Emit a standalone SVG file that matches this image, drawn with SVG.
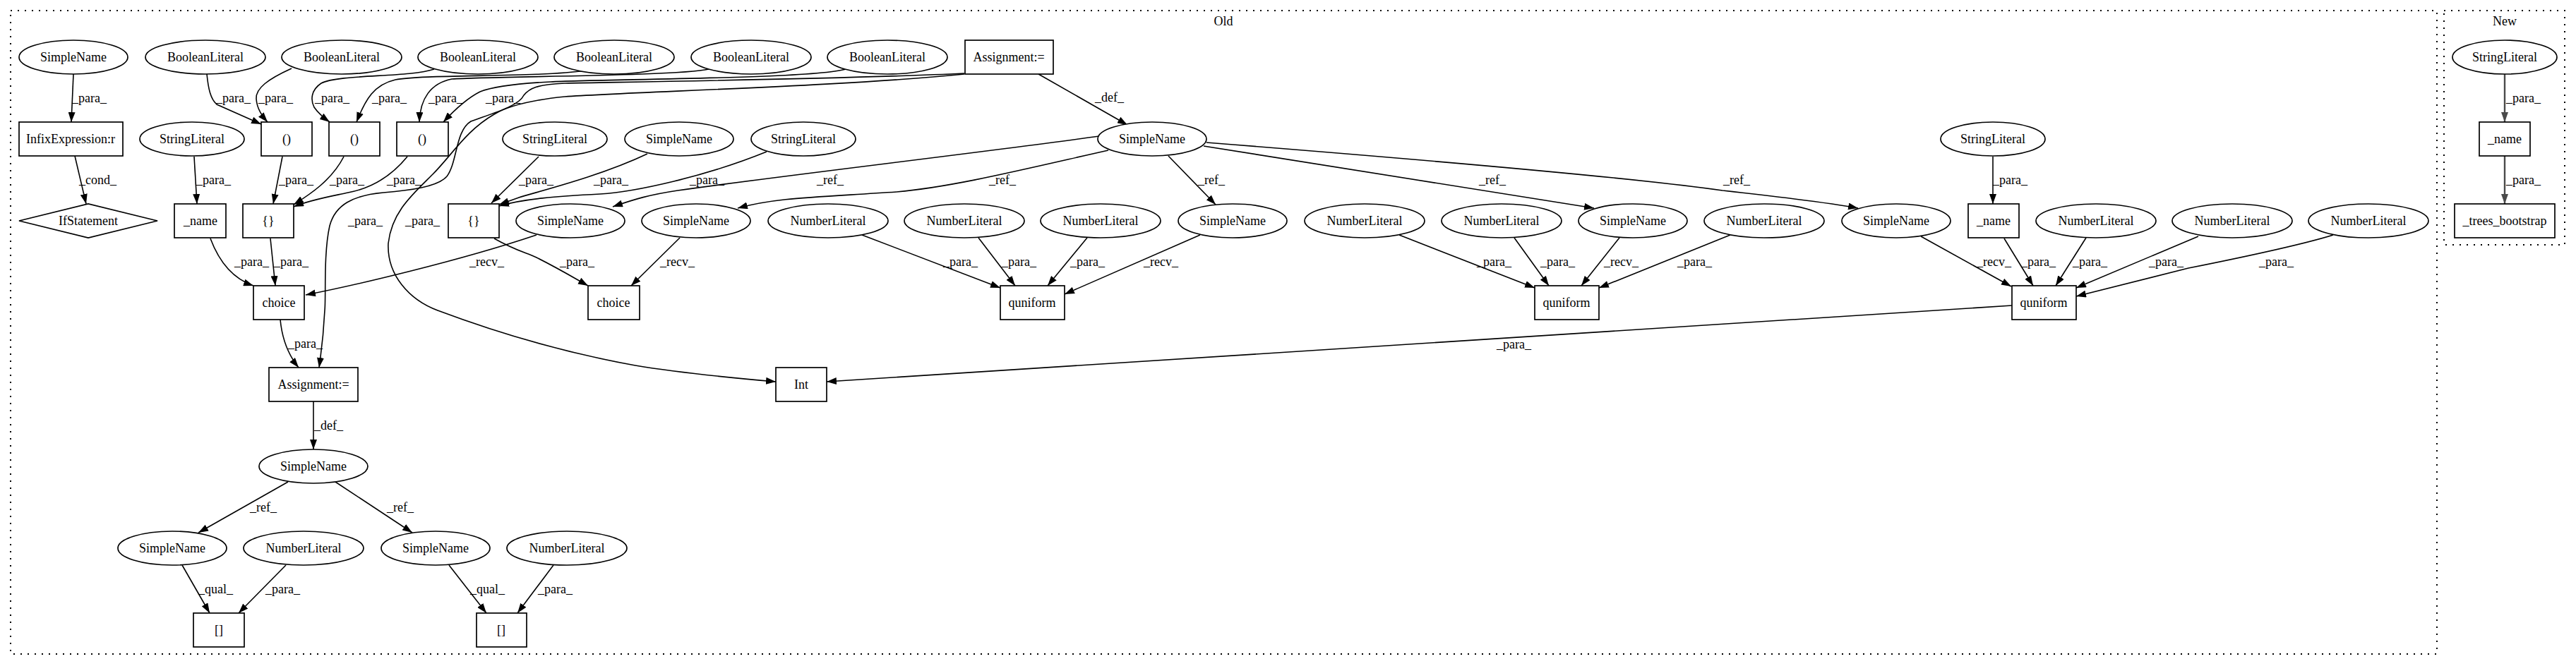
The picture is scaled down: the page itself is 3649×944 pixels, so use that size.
<svg xmlns="http://www.w3.org/2000/svg" width="3649" height="944" viewBox="0 0 3649 944">
<style>
text{font-family:"Liberation Serif","Times New Roman",serif;font-size:18px;fill:#000}
.n text{text-anchor:middle}
.n ellipse,.n rect,.n polygon{fill:#fff;stroke:#000;stroke-width:1.7}
.e path{fill:none;stroke:#000;stroke-width:1.6}
.e2 path{fill:none;stroke:#4a4a4a;stroke-width:2.4}
.lb text{text-anchor:start}
.cl{fill:none;stroke:#000;stroke-width:2;stroke-dasharray:2 8}
</style>
<defs>
<marker id="a" markerUnits="userSpaceOnUse" markerWidth="14" markerHeight="10" refX="14" refY="5" orient="auto"><path d="M0,0L14,5L0,10z" fill="#000"/></marker>
<marker id="a2" markerUnits="userSpaceOnUse" markerWidth="14" markerHeight="10" refX="14" refY="5" orient="auto"><path d="M0,0L14,5L0,10z" fill="#4a4a4a"/></marker>
</defs>
<rect width="3649" height="944" fill="#fff"/>
<g id="clusters">
<rect class="cl" x="15" y="15" width="3437" height="912"/>
<text x="1733" y="36" text-anchor="middle">Old</text>
<rect class="cl" x="3462" y="15" width="171" height="332"/>
<text x="3548" y="36" text-anchor="middle">New</text>
</g>
<g id="connectors">
<g class="e" marker-end="url(#a)">
<path d="M104,105L101,173"/>
<path d="M106,221L122,289"/>
<path d="M293,105C295,125 298,140 307,148L370,176"/>
<path d="M413,97C380,112 362,125 363,140C364,155 372,165 379,173"/>
<path d="M615,98C580,110 480,105 455,118C440,128 440,142 445,152C452,162 460,168 467,173"/>
<path d="M830,100C760,110 600,105 560,113C530,120 518,140 505,173"/>
<path d="M1004,98C960,108 700,108 640,112C610,118 595,140 594,173"/>
<path d="M1198,98C1150,112 850,112 780,116C740,118 700,122 680,130C660,140 640,160 628,173"/>
<path d="M1366,104C1200,112 900,116 800,118C760,120 750,125 742,135C735,150 700,160 667,172C645,185 648,230 633,250C620,265 580,270 543,273C500,277 475,290 467,320C458,360 462,420 460,440C458,480 455,500 452,521"/>
<path d="M1366,105C1200,122 900,130 800,137C750,142 720,150 700,162C660,185 640,220 613,247C585,275 555,300 550,345C548,390 580,425 620,440C700,470 800,500 900,518C960,528 1030,535 1099,541"/>
<path d="M1471,105L1597,177"/>
<path d="M275,222L279,289"/>
<path d="M400,222L387,289"/>
<path d="M487,222C470,255 440,275 416,290"/>
<path d="M577,222C550,255 520,268 493,273C470,278 440,283 416,293"/>
<path d="M763,222L696,288"/>
<path d="M917,218C850,250 760,272 735,280L707,290"/>
<path d="M1086,215C1000,250 900,272 850,275C790,278 740,282 707,292"/>
<path d="M1557,193C1400,215 1100,250 960,270C920,276 900,282 868,293"/>
<path d="M1570,213C1450,240 1350,265 1270,272C1150,280 1100,280 1045,295"/>
<path d="M1655,221L1722,290"/>
<path d="M1705,207L2258,295"/>
<path d="M1709,202C2000,225 2300,250 2440,270C2530,280 2590,287 2632,295"/>
<path d="M760,333C650,370 500,405 433,418"/>
<path d="M298,338C310,370 330,395 359,405"/>
<path d="M383,338L390,405"/>
<path d="M700,338C730,355 745,358 760,365C790,380 810,392 833,405"/>
<path d="M963,337L894,405"/>
<path d="M1221,333L1417,408"/>
<path d="M1386,337L1438,405"/>
<path d="M1540,337L1484,405"/>
<path d="M1700,333L1508,417"/>
<path d="M1982,333L2174,408"/>
<path d="M2145,337L2194,405"/>
<path d="M2294,337L2240,405"/>
<path d="M2451,333L2265,408"/>
<path d="M2721,335L2849,406"/>
<path d="M2839,338L2880,405"/>
<path d="M2955,337L2912,405"/>
<path d="M3114,335L2941,408"/>
<path d="M3305,333C3250,350 3150,370 3100,380L2941,420"/>
<path d="M2823,222L2823,289"/>
<path d="M2850,433C2400,462 1800,500 1171,541"/>
<path d="M397,453C400,485 410,505 423,521"/>
<path d="M444,569L444,637"/>
<path d="M408,683L281,755"/>
<path d="M475,683L584,755"/>
<path d="M258,801L297,869"/>
<path d="M405,801L338,869"/>
<path d="M636,801L689,869"/>
<path d="M784,801L733,869"/>
</g>
<g class="e2" marker-end="url(#a2)">
<path d="M3548,105L3548,173"/>
<path d="M3548,221L3548,289"/>
</g>
<g class="lb">
<text x="102" y="145">_para_</text>
<text x="112" y="261">_cond_</text>
<text x="306" y="145">_para_</text>
<text x="366" y="145">_para_</text>
<text x="446" y="145">_para_</text>
<text x="527" y="145">_para_</text>
<text x="607" y="145">_para_</text>
<text x="688" y="145">_para_</text>
<text x="493" y="319">_para_</text>
<text x="574" y="319">_para_</text>
<text x="1551" y="144">_def_</text>
<text x="278" y="261">_para_</text>
<text x="395" y="261">_para_</text>
<text x="467" y="261">_para_</text>
<text x="548" y="261">_para_</text>
<text x="735" y="261">_para_</text>
<text x="841" y="261">_para_</text>
<text x="977" y="261">_para_</text>
<text x="1157" y="261">_ref_</text>
<text x="1401" y="261">_ref_</text>
<text x="1697" y="261">_ref_</text>
<text x="2095" y="261">_ref_</text>
<text x="2441" y="261">_ref_</text>
<text x="665" y="377">_recv_</text>
<text x="332" y="377">_para_</text>
<text x="388" y="377">_para_</text>
<text x="793" y="377">_para_</text>
<text x="935" y="377">_recv_</text>
<text x="1336" y="377">_para_</text>
<text x="1419" y="377">_para_</text>
<text x="1516" y="377">_para_</text>
<text x="1620" y="377">_recv_</text>
<text x="2092" y="377">_para_</text>
<text x="2182" y="377">_para_</text>
<text x="2272" y="377">_recv_</text>
<text x="2376" y="377">_para_</text>
<text x="2800" y="377">_recv_</text>
<text x="2863" y="377">_para_</text>
<text x="2936" y="377">_para_</text>
<text x="3044" y="377">_para_</text>
<text x="3200" y="377">_para_</text>
<text x="2823" y="261">_para_</text>
<text x="2120" y="494">_para_</text>
<text x="408" y="493">_para_</text>
<text x="445" y="609">_def_</text>
<text x="354" y="725">_ref_</text>
<text x="548" y="725">_ref_</text>
<text x="281" y="841">_qual_</text>
<text x="376" y="841">_para_</text>
<text x="666" y="841">_qual_</text>
<text x="762" y="841">_para_</text>
<text x="3550" y="145">_para_</text>
<text x="3550" y="261">_para_</text>
</g>
</g>
<g class="n">
<g id="n1"><ellipse cx="104" cy="81" rx="77" ry="24"/><text x="104" y="87">SimpleName</text></g>
<g id="n2"><ellipse cx="291" cy="81" rx="85" ry="24"/><text x="291" y="87">BooleanLiteral</text></g>
<g id="n3"><ellipse cx="484" cy="81" rx="85" ry="24"/><text x="484" y="87">BooleanLiteral</text></g>
<g id="n4"><ellipse cx="677" cy="81" rx="85" ry="24"/><text x="677" y="87">BooleanLiteral</text></g>
<g id="n5"><ellipse cx="870" cy="81" rx="85" ry="24"/><text x="870" y="87">BooleanLiteral</text></g>
<g id="n6"><ellipse cx="1064" cy="81" rx="85" ry="24"/><text x="1064" y="87">BooleanLiteral</text></g>
<g id="n7"><ellipse cx="1257" cy="81" rx="85" ry="24"/><text x="1257" y="87">BooleanLiteral</text></g>
<g id="n8"><rect x="1367" y="57" width="125" height="48"/><text x="1429" y="87">Assignment:=</text></g>
<g id="n9"><rect x="27" y="173" width="147" height="48"/><text x="100" y="203">InfixExpression:r</text></g>
<g id="n10"><ellipse cx="272" cy="197" rx="74" ry="24"/><text x="272" y="203">StringLiteral</text></g>
<g id="n11"><rect x="370" y="173" width="72" height="48"/><text x="406" y="203">()</text></g>
<g id="n12"><rect x="466" y="173" width="72" height="48"/><text x="502" y="203">()</text></g>
<g id="n13"><rect x="562" y="173" width="73" height="48"/><text x="598" y="203">()</text></g>
<g id="n14"><ellipse cx="786" cy="197" rx="74" ry="24"/><text x="786" y="203">StringLiteral</text></g>
<g id="n15"><ellipse cx="962" cy="197" rx="77" ry="24"/><text x="962" y="203">SimpleName</text></g>
<g id="n16"><ellipse cx="1138" cy="197" rx="74" ry="24"/><text x="1138" y="203">StringLiteral</text></g>
<g id="n17"><ellipse cx="1632" cy="197" rx="77" ry="24"/><text x="1632" y="203">SimpleName</text></g>
<g id="n18"><ellipse cx="2823" cy="197" rx="74" ry="24"/><text x="2823" y="203">StringLiteral</text></g>
<g id="n19"><polygon points="27,313 125,289 223,313 125,337"/><text x="125" y="319">IfStatement</text></g>
<g id="n20"><rect x="247" y="289" width="73" height="48"/><text x="284" y="319">_name</text></g>
<g id="n21"><rect x="344" y="289" width="72" height="48"/><text x="380" y="319">{}</text></g>
<g id="n22"><rect x="635" y="289" width="72" height="48"/><text x="671" y="319">{}</text></g>
<g id="n23"><ellipse cx="808" cy="313" rx="77" ry="24"/><text x="808" y="319">SimpleName</text></g>
<g id="n24"><ellipse cx="986" cy="313" rx="77" ry="24"/><text x="986" y="319">SimpleName</text></g>
<g id="n25"><ellipse cx="1173" cy="313" rx="85" ry="24"/><text x="1173" y="319">NumberLiteral</text></g>
<g id="n26"><ellipse cx="1366" cy="313" rx="85" ry="24"/><text x="1366" y="319">NumberLiteral</text></g>
<g id="n27"><ellipse cx="1559" cy="313" rx="85" ry="24"/><text x="1559" y="319">NumberLiteral</text></g>
<g id="n28"><ellipse cx="1746" cy="313" rx="77" ry="24"/><text x="1746" y="319">SimpleName</text></g>
<g id="n29"><ellipse cx="1933" cy="313" rx="85" ry="24"/><text x="1933" y="319">NumberLiteral</text></g>
<g id="n30"><ellipse cx="2127" cy="313" rx="85" ry="24"/><text x="2127" y="319">NumberLiteral</text></g>
<g id="n31"><ellipse cx="2313" cy="313" rx="77" ry="24"/><text x="2313" y="319">SimpleName</text></g>
<g id="n32"><ellipse cx="2499" cy="313" rx="85" ry="24"/><text x="2499" y="319">NumberLiteral</text></g>
<g id="n33"><ellipse cx="2686" cy="313" rx="77" ry="24"/><text x="2686" y="319">SimpleName</text></g>
<g id="n34"><rect x="2788" y="289" width="72" height="48"/><text x="2824" y="319">_name</text></g>
<g id="n35"><ellipse cx="2969" cy="313" rx="85" ry="24"/><text x="2969" y="319">NumberLiteral</text></g>
<g id="n36"><ellipse cx="3162" cy="313" rx="85" ry="24"/><text x="3162" y="319">NumberLiteral</text></g>
<g id="n37"><ellipse cx="3355" cy="313" rx="85" ry="24"/><text x="3355" y="319">NumberLiteral</text></g>
<g id="n38"><rect x="359" y="405" width="72" height="48"/><text x="395" y="435">choice</text></g>
<g id="n39"><rect x="833" y="405" width="73" height="48"/><text x="869" y="435">choice</text></g>
<g id="n40"><rect x="1417" y="405" width="91" height="48"/><text x="1462" y="435">quniform</text></g>
<g id="n41"><rect x="2174" y="405" width="91" height="48"/><text x="2219" y="435">quniform</text></g>
<g id="n42"><rect x="2850" y="405" width="91" height="48"/><text x="2895" y="435">quniform</text></g>
<g id="n43"><rect x="381" y="521" width="126" height="48"/><text x="444" y="551">Assignment:=</text></g>
<g id="n44"><rect x="1099" y="521" width="72" height="48"/><text x="1135" y="551">Int</text></g>
<g id="n45"><ellipse cx="444" cy="661" rx="77" ry="24"/><text x="444" y="667">SimpleName</text></g>
<g id="n46"><ellipse cx="244" cy="777" rx="77" ry="24"/><text x="244" y="783">SimpleName</text></g>
<g id="n47"><ellipse cx="430" cy="777" rx="85" ry="24"/><text x="430" y="783">NumberLiteral</text></g>
<g id="n48"><ellipse cx="617" cy="777" rx="77" ry="24"/><text x="617" y="783">SimpleName</text></g>
<g id="n49"><ellipse cx="803" cy="777" rx="85" ry="24"/><text x="803" y="783">NumberLiteral</text></g>
<g id="n50"><rect x="274" y="869" width="72" height="48"/><text x="310" y="899">[]</text></g>
<g id="n51"><rect x="675" y="869" width="71" height="48"/><text x="710" y="899">[]</text></g>
<g id="n52"><ellipse cx="3548" cy="81" rx="74" ry="24"/><text x="3548" y="87">StringLiteral</text></g>
<g id="n53"><rect x="3512" y="173" width="72" height="48"/><text x="3548" y="203">_name</text></g>
<g id="n54"><rect x="3477" y="289" width="142" height="48"/><text x="3548" y="319">_trees_bootstrap</text></g>
</g>
</svg>
